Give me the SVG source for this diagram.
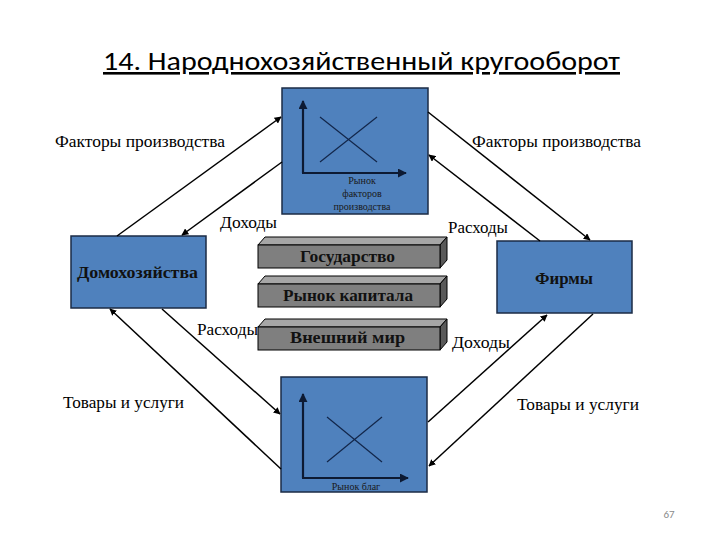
<svg xmlns="http://www.w3.org/2000/svg" width="720" height="540" viewBox="0 0 720 540">
<defs>
<marker id="ah" viewBox="0 0 10 10" refX="9" refY="5" markerWidth="7" markerHeight="7" markerUnits="userSpaceOnUse" orient="auto"><path d="M0,0 L10,5 L0,10 z" fill="#000"/></marker>
<marker id="ax" viewBox="0 0 10 10" refX="9" refY="5" markerWidth="9" markerHeight="9" markerUnits="userSpaceOnUse" orient="auto"><path d="M0,0 L10,5 L0,10 z" fill="#0d1a33"/></marker>
<style>
.box{fill:#4f81bd;stroke:#1b2b45;stroke-width:1.5}
.lbl{font-family:"Liberation Serif","DejaVu Serif",serif;font-size:16px;fill:#000}
.blk{font-family:"Liberation Serif","DejaVu Serif",serif;font-size:16px;font-weight:bold;fill:#111}
.conn line{stroke:#000;stroke-width:1.5;marker-end:url(#ah)}
.axis{stroke:#0d1a33;stroke-width:2.2;fill:none;marker-end:url(#ax)}
.crs{stroke:#12264a;stroke-width:1.2}
.small{font-family:"Liberation Serif","DejaVu Serif",serif;font-size:10px;fill:#1a1a1a}
.front{fill:#7f7f7f;stroke:#000;stroke-width:1}
.top{fill:#a6a6a6;stroke:#000;stroke-width:1}
.side{fill:#595959;stroke:#000;stroke-width:1}
</style>
</defs>
<rect width="720" height="540" fill="#fff"/>
<text x="103" y="70" font-family="Carlito,'Open Sans','Liberation Sans',sans-serif" font-size="26" text-decoration="underline" textLength="517" lengthAdjust="spacingAndGlyphs" fill="#000">14. Народнохозяйственный кругооборот</text>

<g id="market-factors">
<rect class="box" x="282" y="88" width="146" height="126"/>
<line class="axis" x1="303" y1="173" x2="303" y2="101"/>
<line class="axis" x1="302" y1="173" x2="406" y2="173"/>
<line class="crs" x1="320" y1="117" x2="377" y2="162"/>
<line class="crs" x1="320" y1="162" x2="377" y2="117"/>
<text class="small" text-anchor="middle"><tspan x="362" y="184">Рынок</tspan><tspan x="362" y="197">факторов</tspan><tspan x="362" y="210">производства</tspan></text>
</g>

<g id="market-goods">
<rect class="box" x="281" y="377" width="146" height="115"/>
<line class="axis" x1="303" y1="478" x2="303" y2="394"/>
<line class="axis" x1="302" y1="478" x2="408" y2="478"/>
<line class="crs" x1="327" y1="417" x2="382" y2="462"/>
<line class="crs" x1="327" y1="462" x2="382" y2="417"/>
<text class="small" x="356" y="490" text-anchor="middle">Рынок благ</text>
</g>

<g id="households">
<rect class="box" x="71" y="236" width="135" height="72"/>
<text class="blk" x="77" y="278" textLength="121" lengthAdjust="spacingAndGlyphs">Домохозяйства</text>
</g>

<g id="firms">
<rect class="box" x="497" y="241" width="135" height="72"/>
<text class="blk" x="535" y="284" textLength="58" lengthAdjust="spacingAndGlyphs">Фирмы</text>
</g>

<g id="state">
<polygon class="top" points="258,245 265,237 447,237 440,245"/>
<polygon class="side" points="440,245 447,237 447,260 440,268"/>
<rect class="front" x="258" y="245" width="182" height="23"/>
<text class="blk" x="300" y="262" textLength="95" lengthAdjust="spacingAndGlyphs">Государство</text>
</g>

<g id="capital-market">
<polygon class="top" points="258,284 265,276 447,276 440,284"/>
<polygon class="side" points="440,284 447,276 447,299 440,307"/>
<rect class="front" x="258" y="284" width="182" height="23"/>
<text class="blk" x="283" y="301" textLength="130" lengthAdjust="spacingAndGlyphs">Рынок капитала</text>
</g>

<g id="foreign">
<polygon class="top" points="258,327 265,319 447,319 440,327"/>
<polygon class="side" points="440,327 447,319 447,342 440,350"/>
<rect class="front" x="258" y="327" width="182" height="23"/>
<text class="blk" x="290" y="343" textLength="115" lengthAdjust="spacingAndGlyphs">Внешний мир</text>
</g>

<g id="connectors" class="conn">
<line x1="117" y1="236" x2="281" y2="117"/>
<line x1="282" y1="162" x2="182" y2="235"/>
<line x1="428" y1="112" x2="590" y2="240"/>
<line x1="540" y1="241" x2="429" y2="155"/>
<line x1="162" y1="309" x2="280" y2="414"/>
<line x1="281" y1="469" x2="110" y2="309"/>
<line x1="428" y1="422" x2="547" y2="315"/>
<line x1="593" y1="314" x2="429" y2="466"/>
</g>

<g id="labels">
<text class="lbl" x="55" y="147" textLength="170" lengthAdjust="spacingAndGlyphs">Факторы производства</text>
<text class="lbl" x="472" y="147" textLength="169" lengthAdjust="spacingAndGlyphs">Факторы производства</text>
<text class="lbl" x="220" y="228" textLength="57" lengthAdjust="spacingAndGlyphs">Доходы</text>
<text class="lbl" x="448" y="233" textLength="60" lengthAdjust="spacingAndGlyphs">Расходы</text>
<text class="lbl" x="197" y="335" textLength="61" lengthAdjust="spacingAndGlyphs">Расходы</text>
<text class="lbl" x="452" y="348" textLength="58" lengthAdjust="spacingAndGlyphs">Доходы</text>
<text class="lbl" x="63" y="408" textLength="121" lengthAdjust="spacingAndGlyphs">Товары и услуги</text>
<text class="lbl" x="517" y="410" textLength="122" lengthAdjust="spacingAndGlyphs">Товары и услуги</text>
</g>
<text x="669" y="518" font-family="Carlito,'Liberation Sans',sans-serif" font-size="11" fill="#8a8a8a" text-anchor="middle">67</text>
</svg>
